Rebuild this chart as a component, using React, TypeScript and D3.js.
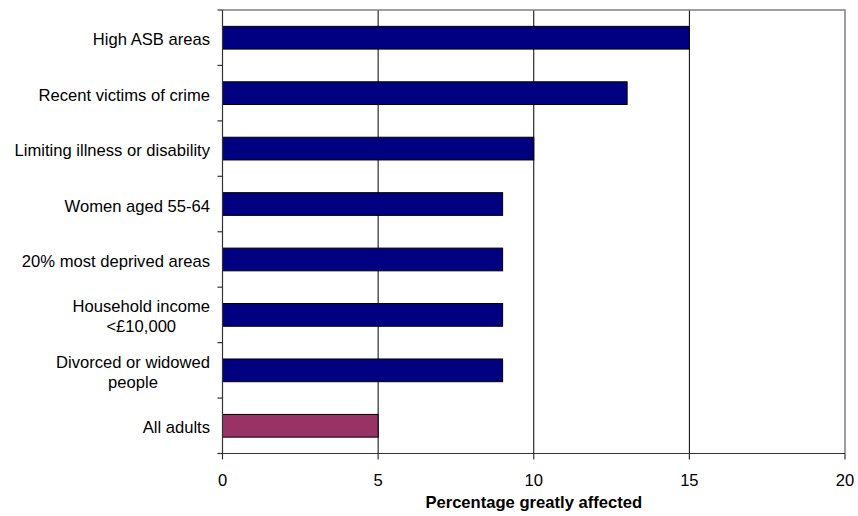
import React, { useEffect, useRef } from "react";
import * as d3 from "d3";

const categories: string[][] = [
  ["High ASB areas"],
  ["Recent victims of crime"],
  ["Limiting illness or disability"],
  ["Women aged 55-64"],
  ["20% most deprived areas"],
  ["Household income", "<£10,000"],
  ["Divorced or widowed", "people"],
  ["All adults"],
];
const values: number[] = [15, 13, 10, 9, 9, 9, 9, 5];
const highlight: boolean[] = [false, false, false, false, false, false, false, true];
const xTicks: number[] = [0, 5, 10, 15, 20];
const xTitle = "Percentage greatly affected";

const W = 858;
const H = 516;
const M = { left: 222.5, right: 13, top: 10, bottom: 62.5 };
const FONT = "'Liberation Sans', Arial, sans-serif";
const FS = 16.6;

export default function App() {
  const ref = useRef<SVGSVGElement | null>(null);
  useEffect(() => {
    const svg = d3.select(ref.current);
    svg.selectAll("*").remove();
    const x = d3.scaleLinear().domain([0, 20]).range([M.left, W - M.right]);
    const y = d3
      .scaleBand<number>()
      .domain(d3.range(categories.length))
      .range([M.top, H - M.bottom])
      .paddingInner(0.59)
      .paddingOuter(0.295);
    const yb = d3
      .scaleBand<number>()
      .domain(d3.range(categories.length))
      .range([M.top, H - M.bottom]);
    const y0 = M.top, y1 = H - M.bottom;

    svg.append("rect").attr("x", 0).attr("y", 0).attr("width", W).attr("height", H).attr("fill", "#fff");

    // gridlines
    svg.append("g").selectAll("line").data(xTicks.filter((t) => t > 0 && t < 20)).join("line")
      .attr("x1", (d) => x(d)).attr("x2", (d) => x(d)).attr("y1", y0).attr("y2", y1)
      .attr("stroke", "#000").attr("stroke-width", 1);
    // plot border top/right
    svg.append("path")
      .attr("d", `M${x(0)},${y0}H${x(20)}V${y1}`)
      .attr("fill", "none").attr("stroke", "#808080").attr("stroke-width", 1.5);

    // bars
    svg.append("g").selectAll("rect").data(values).join("rect")
      .attr("x", x(0)).attr("y", (_, i) => y(i)!)
      .attr("width", (d) => x(d) - x(0)).attr("height", y.bandwidth())
      .attr("fill", (_, i) => (highlight[i] ? "#993366" : "#000080"))
      .attr("stroke", "#000").attr("stroke-width", 1);

    // axes
    svg.append("line").attr("x1", x(0)).attr("x2", x(0)).attr("y1", y0).attr("y2", y1)
      .attr("stroke", "#333").attr("stroke-width", 1.2);
    svg.append("line").attr("x1", x(0) - 5).attr("x2", x(20)).attr("y1", y1).attr("y2", y1)
      .attr("stroke", "#333").attr("stroke-width", 1.2);
    // y ticks
    const yt = d3.range(categories.length + 1).map((i) => (i < categories.length ? yb(i)! : y1));
    svg.append("g").selectAll("line").data(yt).join("line")
      .attr("x1", x(0) - 5).attr("x2", x(0)).attr("y1", (d) => d).attr("y2", (d) => d)
      .attr("stroke", "#333").attr("stroke-width", 1.2);
    // x ticks
    svg.append("g").selectAll("line").data(xTicks).join("line")
      .attr("x1", (d) => x(d)).attr("x2", (d) => x(d)).attr("y1", y1).attr("y2", y1 + 6)
      .attr("stroke", "#333").attr("stroke-width", 1.2);
    svg.append("g").selectAll("text").data(xTicks).join("text")
      .attr("x", (d) => x(d)).attr("y", y1 + 32)
      .attr("text-anchor", "middle").attr("font-family", FONT).attr("font-size", FS)
      .attr("fill", "#000").text((d) => String(d));

    // category labels
    const labelRight = x(0) - 12.5;
    const lh = 20;
    categories.forEach((lines, i) => {
      const cy = yb(i)! + yb.bandwidth() / 2;
      const t = svg.append("text").attr("font-family", FONT).attr("font-size", FS).attr("fill", "#000");
      if (lines.length === 1) {
        t.attr("x", labelRight).attr("y", cy + 7.5).attr("text-anchor", "end").text(lines[0]);
      } else {
        const spans = lines.map((l, k) =>
          t.append("tspan").attr("x", 0).attr("y", cy + 7.5 + (k - (lines.length - 1) / 2) * lh).text(l)
        );
        let maxW = 0;
        spans.forEach((s) => {
          const n = s.node() as SVGTSpanElement;
          maxW = Math.max(maxW, n.getComputedTextLength());
        });
        const cx = labelRight - maxW / 2;
        t.attr("text-anchor", "middle");
        spans.forEach((s) => s.attr("x", cx));
      }
    });

    // x title
    svg.append("text").attr("x", (x(0) + x(20)) / 2).attr("y", y1 + 54.5)
      .attr("text-anchor", "middle").attr("font-family", FONT).attr("font-size", FS)
      .attr("font-weight", "bold").attr("fill", "#000").text(xTitle);
  }, []);
  return (
    <svg
      ref={ref}
      width={W}
      height={H}
      style={{ position: "absolute", left: 0, top: 0, display: "block" }}
    />
  );
}
